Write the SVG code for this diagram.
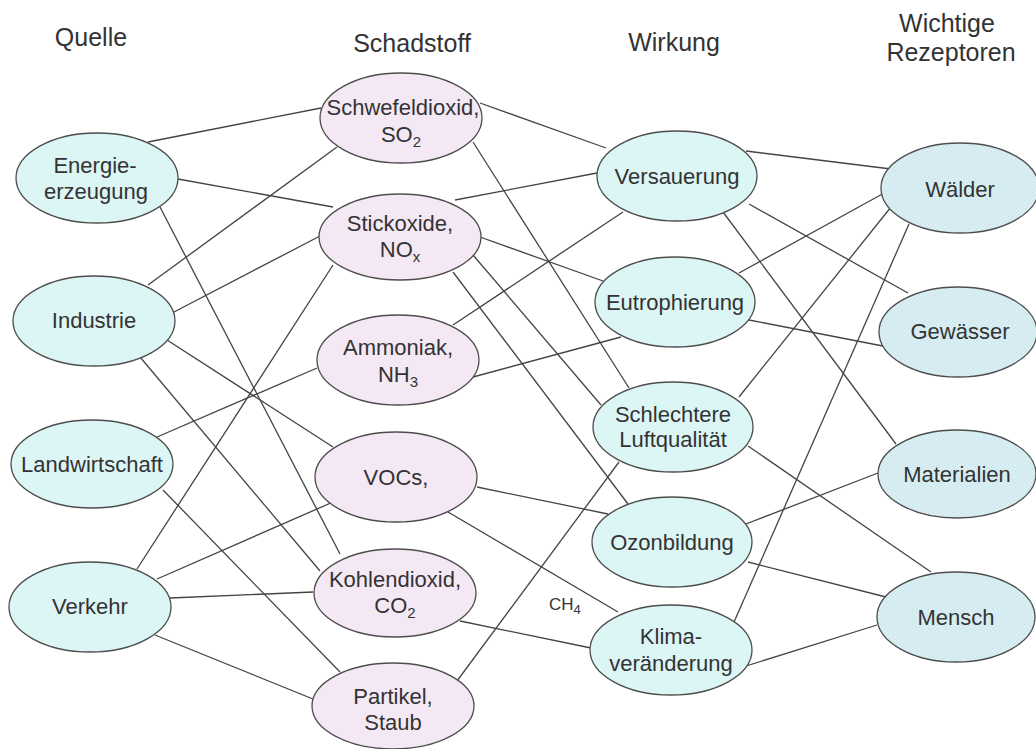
<svg xmlns="http://www.w3.org/2000/svg" width="1036" height="749" viewBox="0 0 1036 749">
<style>
.hdr{font-family:"Liberation Sans",Arial,sans-serif;font-size:25px;fill:#333;text-anchor:middle}
.lbl{font-family:"Liberation Sans",Arial,sans-serif;font-size:22px;fill:#333;text-anchor:middle}
.sm{font-family:"Liberation Sans",Arial,sans-serif;font-size:17px;fill:#333}
.src,.eff{fill:#dcf5f5;stroke:#4d4d4d;stroke-width:1.3}
.pol{fill:#f5e8f5;stroke:#4d4d4d;stroke-width:1.3}
.rec{fill:url(#dots);stroke:#4d4d4d;stroke-width:1.3}
#connectors line{stroke:#444;stroke-width:1.3}
</style>
<defs>
<pattern id="dots" width="4" height="4" patternUnits="userSpaceOnUse">
<rect width="4" height="4" fill="#d9eff3"/>
<circle cx="1" cy="1" r="0.7" fill="#c6e3e9"/>
<circle cx="3" cy="3" r="0.7" fill="#c6e3e9"/>
</pattern>
</defs>
<rect width="1036" height="749" fill="#ffffff"/>
<g id="headers">
<text class="hdr" x="91" y="46">Quelle</text>
<text class="hdr" x="412" y="52">Schadstoff</text>
<text class="hdr" x="674" y="51">Wirkung</text>
<text class="hdr" x="947" y="32">Wichtige</text>
<text class="hdr" x="951" y="61">Rezeptoren</text>
</g>
<g id="connectors">
<line x1="148" y1="142" x2="321" y2="108"/>
<line x1="178" y1="179" x2="333" y2="207"/>
<line x1="160" y1="207" x2="340" y2="554"/>
<line x1="148" y1="285" x2="337" y2="147"/>
<line x1="174" y1="312" x2="320" y2="236"/>
<line x1="167" y1="340" x2="333" y2="447"/>
<line x1="140" y1="357" x2="320" y2="571"/>
<line x1="157" y1="437" x2="317" y2="368"/>
<line x1="163" y1="490" x2="340" y2="672"/>
<line x1="137" y1="569" x2="333" y2="265"/>
<line x1="157" y1="579" x2="333" y2="502"/>
<line x1="170" y1="598" x2="313" y2="592"/>
<line x1="155" y1="635" x2="313" y2="699"/>
<line x1="480" y1="103" x2="606" y2="148"/>
<line x1="473" y1="142" x2="629" y2="388"/>
<line x1="455" y1="200" x2="597" y2="173"/>
<line x1="480" y1="237" x2="603" y2="281"/>
<line x1="473" y1="255" x2="601" y2="405"/>
<line x1="453" y1="272" x2="628" y2="504"/>
<line x1="453" y1="325" x2="623" y2="212"/>
<line x1="473" y1="377" x2="621" y2="337"/>
<line x1="477" y1="487" x2="608" y2="514"/>
<line x1="448" y1="512" x2="618" y2="612"/>
<line x1="460" y1="621" x2="591" y2="648"/>
<line x1="457" y1="681" x2="619" y2="462"/>
<line x1="746" y1="151" x2="891" y2="169"/>
<line x1="749" y1="204" x2="908" y2="293"/>
<line x1="723" y1="212" x2="896" y2="444"/>
<line x1="739" y1="273" x2="886" y2="192"/>
<line x1="749" y1="320" x2="888" y2="347"/>
<line x1="739" y1="397" x2="891" y2="207"/>
<line x1="748" y1="446" x2="931" y2="572"/>
<line x1="746" y1="524" x2="878" y2="473"/>
<line x1="748" y1="562" x2="886" y2="597"/>
<line x1="734" y1="622" x2="909" y2="224"/>
<line x1="746" y1="666" x2="877" y2="625"/>
<text class="sm" x="549" y="610">CH<tspan dy="4" font-size="13">4</tspan></text>
</g>
<g id="energie"><ellipse class="src" cx="97" cy="178" rx="81" ry="45"/><text class="lbl" x="95" y="173">Energie-</text><text class="lbl" x="96" y="199">erzeugung</text></g>
<g id="industrie"><ellipse class="src" cx="94" cy="321" rx="81" ry="45"/><text class="lbl" x="94" y="328">Industrie</text></g>
<g id="landwirtschaft"><ellipse class="src" cx="92" cy="464" rx="81" ry="44"/><text class="lbl" x="92" y="472">Landwirtschaft</text></g>
<g id="verkehr"><ellipse class="src" cx="90" cy="607" rx="81" ry="45"/><text class="lbl" x="90" y="614">Verkehr</text></g>
<g id="so2"><ellipse class="pol" cx="401" cy="118" rx="81" ry="45"/><text class="lbl" x="403" y="115">Schwefeldioxid,</text><text class="lbl" x="401" y="142">SO<tspan dy="5" font-size="15">2</tspan></text></g>
<g id="nox"><ellipse class="pol" cx="400" cy="237" rx="81" ry="43"/><text class="lbl" x="400" y="231">Stickoxide,</text><text class="lbl" x="400" y="257">NO<tspan dy="5" font-size="15">x</tspan></text></g>
<g id="nh3"><ellipse class="pol" cx="398" cy="360" rx="81" ry="45"/><text class="lbl" x="398" y="355">Ammoniak,</text><text class="lbl" x="398" y="382">NH<tspan dy="5" font-size="15">3</tspan></text></g>
<g id="vocs"><ellipse class="pol" cx="396" cy="477" rx="81" ry="45"/><text class="lbl" x="396" y="485">VOCs,</text></g>
<g id="co2"><ellipse class="pol" cx="395" cy="593" rx="81" ry="44"/><text class="lbl" x="395" y="587">Kohlendioxid,</text><text class="lbl" x="395" y="613">CO<tspan dy="5" font-size="15">2</tspan></text></g>
<g id="partikel"><ellipse class="pol" cx="393" cy="706" rx="81" ry="43"/><text class="lbl" x="393" y="704">Partikel,</text><text class="lbl" x="393" y="730">Staub</text></g>
<g id="versauerung"><ellipse class="eff" cx="677" cy="176" rx="80" ry="45"/><text class="lbl" x="677" y="184">Versauerung</text></g>
<g id="eutrophierung"><ellipse class="eff" cx="675" cy="302" rx="80" ry="45"/><text class="lbl" x="675" y="310">Eutrophierung</text></g>
<g id="luftqualitaet"><ellipse class="eff" cx="673" cy="427" rx="80" ry="45"/><text class="lbl" x="673" y="422">Schlechtere</text><text class="lbl" x="673" y="447">Luftqualität</text></g>
<g id="ozonbildung"><ellipse class="eff" cx="672" cy="542" rx="80" ry="45"/><text class="lbl" x="672" y="550">Ozonbildung</text></g>
<g id="klima"><ellipse class="eff" cx="671" cy="650" rx="81" ry="45"/><text class="lbl" x="671" y="644">Klima-</text><text class="lbl" x="671" y="671">veränderung</text></g>
<g id="waelder"><ellipse class="rec" cx="960" cy="188" rx="79" ry="45"/><text class="lbl" x="960" y="197">Wälder</text></g>
<g id="gewaesser"><ellipse class="rec" cx="958" cy="332" rx="79" ry="45"/><text class="lbl" x="960" y="339">Gewässer</text></g>
<g id="materialien"><ellipse class="rec" cx="957" cy="474" rx="79" ry="44"/><text class="lbl" x="957" y="482">Materialien</text></g>
<g id="mensch"><ellipse class="rec" cx="956" cy="617" rx="79" ry="45"/><text class="lbl" x="956" y="625">Mensch</text></g>
</svg>
